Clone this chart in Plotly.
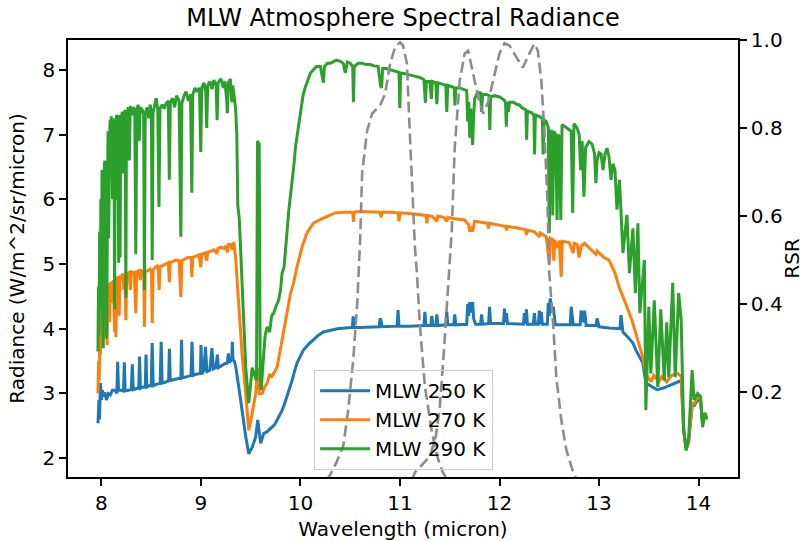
import plotly.graph_objects as go

# wavelength (micron), radiance (W/m^2/sr/micron)
mlw_250 = [
    (7.965, 2.54), (7.975, 2.9), (7.98, 2.6), (7.99, 3.16), (8.0, 2.9), (8.01, 3.05), (8.025, 2.95),
    (8.035, 3.02), (8.05, 2.9), (8.07, 3.0), (8.09, 2.98), (8.11, 3.05), (8.14, 3.05), (8.155, 3.0),
    (8.163, 3.49), (8.172, 3.05), (8.2, 3.05), (8.222, 3.04), (8.23, 3.48), (8.238, 3.04), (8.27, 3.05),
    (8.3, 3.06), (8.31, 3.45), (8.32, 3.06), (8.36, 3.08), (8.375, 3.08), (8.383, 3.57), (8.392, 3.08),
    (8.42, 3.1), (8.44, 3.1), (8.448, 3.6), (8.456, 3.1), (8.48, 3.12), (8.5, 3.12), (8.51, 3.78),
    (8.52, 3.12), (8.55, 3.14), (8.59, 3.16), (8.6, 3.8), (8.61, 3.16), (8.65, 3.18), (8.675, 3.2),
    (8.683, 3.69), (8.692, 3.2), (8.74, 3.22), (8.78, 3.23), (8.798, 3.24), (8.805, 3.83), (8.813, 3.24),
    (8.86, 3.26), (8.9, 3.28), (8.91, 3.8), (8.92, 3.28), (8.96, 3.3), (8.995, 3.31), (9.0, 3.75),
    (9.01, 3.3), (9.03, 3.36), (9.045, 3.72), (9.06, 3.34), (9.09, 3.36), (9.11, 3.7), (9.125, 3.38),
    (9.15, 3.4), (9.165, 3.6), (9.175, 3.4), (9.21, 3.44), (9.24, 3.46), (9.265, 3.47), (9.275, 3.62),
    (9.285, 3.48), (9.31, 3.52), (9.315, 3.8), (9.322, 3.52), (9.335, 3.5),
    (9.35, 3.41), (9.38, 3.1), (9.415, 2.7), (9.45, 2.33), (9.48, 2.07), (9.515, 2.17), (9.55, 2.33),
    (9.57, 2.59), (9.6, 2.23), (9.63, 2.38), (9.665, 2.41), (9.69, 2.45), (9.715, 2.48), (9.74, 2.52),
    (9.765, 2.59), (9.79, 2.66), (9.815, 2.74), (9.84, 2.84), (9.865, 2.95), (9.89, 3.07), (9.915, 3.2),
    (9.94, 3.34), (9.965, 3.47), (10.0, 3.58), (10.03, 3.67), (10.08, 3.76), (10.13, 3.83), (10.18, 3.9),
    (10.23, 3.95), (10.3, 3.98), (10.37, 4.0), (10.45, 4.01), (10.52, 4.02), (10.53, 4.19), (10.54, 4.02),
    (10.6, 4.02), (10.7, 4.03), (10.79, 4.03), (10.8, 4.16), (10.81, 4.12), (10.82, 4.03), (10.9, 4.03),
    (10.97, 4.04), (10.98, 4.29), (10.99, 4.04), (11.1, 4.04), (11.2, 4.05), (11.24, 4.05), (11.25, 4.26),
    (11.26, 4.05), (11.31, 4.05), (11.32, 4.2), (11.33, 4.05), (11.36, 4.05), (11.37, 4.22), (11.38, 4.05),
    (11.46, 4.06), (11.47, 4.26), (11.48, 4.06), (11.54, 4.06), (11.55, 4.22), (11.56, 4.06), (11.67, 4.07),
    (11.68, 4.38), (11.69, 4.2), (11.7, 4.41), (11.71, 4.25), (11.73, 4.41), (11.74, 4.15), (11.76, 4.07),
    (11.81, 4.07), (11.82, 4.22), (11.83, 4.07), (11.89, 4.08), (11.9, 4.34), (11.91, 4.08), (12.04, 4.08),
    (12.05, 4.31), (12.06, 4.1), (12.07, 4.24), (12.08, 4.08), (12.2, 4.07), (12.24, 4.07), (12.25, 4.24),
    (12.26, 4.07), (12.27, 4.3), (12.28, 4.07), (12.34, 4.07), (12.35, 4.24), (12.36, 4.07), (12.39, 4.07),
    (12.4, 4.28), (12.41, 4.07), (12.42, 4.26), (12.43, 4.07), (12.48, 4.07), (12.49, 4.4), (12.5, 4.2),
    (12.51, 4.47), (12.525, 4.25), (12.54, 4.34), (12.56, 4.06), (12.62, 4.06), (12.71, 4.06), (12.72, 4.34),
    (12.74, 4.06), (12.81, 4.06), (12.82, 4.28), (12.84, 4.1), (12.855, 4.28), (12.87, 4.05), (12.95, 4.05),
    (12.97, 4.05), (12.98, 4.16), (13.0, 4.03), (13.1, 4.01), (13.18, 4.0), (13.21, 4.0), (13.22, 4.21),
    (13.24, 3.95), (13.29, 3.87), (13.34, 3.78), (13.37, 3.67), (13.41, 3.56), (13.44, 3.47), (13.47, 3.16),
    (13.52, 3.12), (13.58, 3.06), (13.64, 3.08), (13.7, 3.12), (13.77, 3.16), (13.825, 3.2), (13.85, 2.45),
    (13.875, 2.14), (13.9, 2.25), (13.935, 2.8), (13.96, 2.82), (13.99, 2.9), (14.02, 2.88), (14.04, 2.55),
    (14.065, 2.68), (14.08, 2.6),
]

mlw_270 = [
    (7.965, 3.0), (7.972, 3.5), (7.978, 3.2), (7.985, 4.0), (7.99, 3.6), (7.997, 4.3), (8.005, 3.9),
    (8.012, 4.45), (8.018, 3.8), (8.026, 4.5), (8.035, 4.6), (8.042, 4.0), (8.05, 4.62), (8.057, 3.75),
    (8.064, 4.65), (8.075, 4.7), (8.082, 4.1), (8.09, 4.7), (8.1, 4.72), (8.112, 4.4), (8.12, 4.75),
    (8.132, 3.95), (8.14, 4.78), (8.145, 3.87), (8.152, 4.78), (8.17, 4.8), (8.178, 4.2), (8.186, 4.82),
    (8.2, 4.8), (8.215, 4.85), (8.225, 4.6), (8.235, 4.83), (8.245, 4.13), (8.255, 4.85), (8.28, 4.87),
    (8.29, 4.6), (8.3, 4.88), (8.33, 4.87), (8.345, 4.24), (8.355, 4.88), (8.38, 4.9), (8.39, 4.75),
    (8.4, 4.9), (8.425, 4.88), (8.432, 4.03), (8.44, 4.88), (8.47, 4.9), (8.49, 4.92), (8.503, 4.88),
    (8.51, 4.09), (8.518, 4.9), (8.54, 4.95), (8.56, 4.97), (8.572, 4.9), (8.58, 4.6), (8.588, 4.96),
    (8.62, 4.98), (8.65, 5.0), (8.672, 5.02), (8.682, 4.72), (8.692, 5.02), (8.72, 5.04), (8.75, 5.06),
    (8.78, 5.05), (8.798, 4.49), (8.808, 5.05), (8.84, 5.08), (8.87, 5.1), (8.9, 5.1), (8.908, 4.8),
    (8.918, 5.1), (8.95, 5.12), (8.98, 5.14), (8.998, 4.95), (9.008, 5.15), (9.04, 5.17), (9.058, 5.05),
    (9.068, 5.18), (9.1, 5.2), (9.13, 5.22), (9.16, 5.16), (9.17, 5.24), (9.2, 5.26), (9.23, 5.24),
    (9.25, 5.28), (9.265, 5.18), (9.275, 5.3), (9.3, 5.3), (9.315, 5.22), (9.33, 5.34),
    (9.35, 5.06), (9.38, 4.29), (9.415, 3.56), (9.45, 3.0), (9.48, 2.43), (9.515, 2.7), (9.55, 3.0),
    (9.57, 3.4), (9.585, 3.0), (9.615, 3.0), (9.64, 3.1), (9.665, 3.16), (9.69, 3.3), (9.71, 3.25),
    (9.74, 3.35), (9.765, 3.41), (9.8, 3.7), (9.83, 3.93), (9.865, 4.25), (9.9, 4.55), (9.93, 4.7),
    (9.965, 4.96), (10.015, 5.26), (10.065, 5.48), (10.13, 5.63), (10.23, 5.71), (10.3, 5.75), (10.35, 5.79),
    (10.45, 5.8), (10.525, 5.8), (10.532, 5.65), (10.54, 5.8), (10.6, 5.81), (10.7, 5.81), (10.8, 5.8),
    (10.81, 5.72), (10.82, 5.8), (10.9, 5.8), (10.98, 5.79), (10.99, 5.66), (11.0, 5.79), (11.1, 5.78),
    (11.2, 5.76), (11.26, 5.75), (11.27, 5.63), (11.28, 5.75), (11.32, 5.74), (11.37, 5.66), (11.38, 5.74),
    (11.44, 5.72), (11.47, 5.66), (11.48, 5.72), (11.55, 5.7), (11.65, 5.68), (11.69, 5.6), (11.7, 5.5),
    (11.72, 5.58), (11.73, 5.5), (11.75, 5.66), (11.8, 5.65), (11.88, 5.63), (11.89, 5.55), (11.9, 5.63),
    (12.0, 5.6), (12.06, 5.58), (12.07, 5.52), (12.08, 5.58), (12.17, 5.56), (12.26, 5.53), (12.27, 5.45),
    (12.28, 5.52), (12.35, 5.5), (12.4, 5.42), (12.41, 5.48), (12.47, 5.42), (12.5, 5.01), (12.51, 5.4),
    (12.535, 5.38), (12.545, 5.05), (12.555, 5.37), (12.58, 5.25), (12.6, 5.36), (12.62, 4.8), (12.63, 5.35),
    (12.7, 5.33), (12.74, 5.17), (12.75, 5.32), (12.78, 5.3), (12.8, 5.1), (12.82, 5.28), (12.855, 5.32),
    (12.9, 5.25), (12.97, 5.15), (12.98, 5.2), (13.02, 5.15), (13.05, 5.1), (13.1, 5.06), (13.16, 4.86),
    (13.2, 4.65), (13.24, 4.5), (13.28, 4.34), (13.33, 4.13), (13.37, 3.93), (13.41, 3.72), (13.44, 3.56),
    (13.47, 3.31), (13.49, 3.26), (13.52, 3.18), (13.55, 3.28), (13.6, 3.18), (13.63, 3.26), (13.68, 3.18),
    (13.73, 3.28), (13.79, 3.31), (13.825, 3.26), (13.85, 2.45), (13.875, 2.14), (13.9, 2.25), (13.935, 2.85),
    (13.96, 2.85), (13.99, 2.95), (14.02, 2.9), (14.04, 2.55), (14.065, 2.7), (14.08, 2.62),
]

mlw_290 = [
    (7.965, 3.65), (7.97, 4.65), (7.975, 3.9), (7.982, 5.5), (7.988, 4.3), (7.994, 6.0), (8.0, 4.9),
    (8.006, 6.45), (8.012, 4.2), (8.018, 3.7), (8.025, 6.2), (8.032, 6.6), (8.038, 4.8), (8.045, 6.6),
    (8.052, 3.85), (8.058, 6.8), (8.066, 7.05), (8.072, 5.4), (8.078, 7.0), (8.086, 7.22), (8.092, 6.4),
    (8.098, 7.28), (8.106, 7.15), (8.112, 6.0), (8.118, 7.25), (8.126, 7.1), (8.132, 4.3), (8.138, 7.15),
    (8.145, 5.99), (8.151, 7.3), (8.166, 7.25), (8.173, 5.02), (8.18, 7.3), (8.187, 5.1), (8.194, 7.22),
    (8.21, 7.35), (8.218, 6.4), (8.226, 7.3), (8.238, 7.38), (8.245, 4.47), (8.252, 7.3), (8.27, 7.42),
    (8.28, 6.6), (8.29, 7.44), (8.31, 7.3), (8.32, 7.42), (8.335, 7.38), (8.345, 5.15), (8.355, 7.38),
    (8.37, 7.46), (8.38, 6.9), (8.39, 7.42), (8.41, 7.38), (8.424, 7.32), (8.432, 4.6), (8.44, 7.32),
    (8.46, 7.42), (8.475, 7.25), (8.49, 7.46), (8.502, 7.32), (8.51, 5.06), (8.518, 7.32), (8.535, 7.46),
    (8.55, 7.56), (8.566, 7.38), (8.578, 5.88), (8.588, 7.4), (8.61, 7.46), (8.63, 7.4), (8.65, 7.48),
    (8.672, 7.52), (8.682, 6.3), (8.692, 7.5), (8.715, 7.56), (8.735, 7.42), (8.755, 7.6), (8.78, 7.52),
    (8.798, 5.42), (8.808, 7.48), (8.83, 7.6), (8.85, 7.66), (8.875, 7.52), (8.895, 7.62), (8.908, 6.1),
    (8.918, 7.62), (8.94, 7.72), (8.96, 7.66), (8.985, 7.72), (8.998, 6.73), (9.008, 7.72), (9.03, 7.8),
    (9.048, 7.66), (9.058, 7.1), (9.068, 7.76), (9.09, 7.82), (9.11, 7.7), (9.13, 7.84), (9.152, 7.76),
    (9.162, 7.22), (9.172, 7.8), (9.2, 7.86), (9.225, 7.72), (9.24, 7.82), (9.258, 7.55), (9.265, 7.33),
    (9.275, 7.8), (9.295, 7.86), (9.31, 7.5), (9.32, 7.76), (9.335, 7.55), (9.348, 7.4),
    (9.36, 7.0), (9.37, 5.9), (9.385, 5.7), (9.415, 4.55), (9.45, 3.4), (9.48, 2.85), (9.5, 3.2),
    (9.515, 3.4), (9.535, 3.3), (9.558, 3.2), (9.568, 6.9), (9.585, 6.85), (9.595, 3.3), (9.605, 3.05),
    (9.63, 3.6), (9.645, 3.9), (9.665, 4.03), (9.69, 3.95), (9.71, 4.2), (9.73, 4.24), (9.755, 4.35),
    (9.78, 4.44), (9.8, 4.6), (9.815, 4.86), (9.835, 4.95), (9.85, 5.17), (9.865, 5.5), (9.88, 5.79),
    (9.9, 6.05), (9.915, 6.3), (9.935, 6.55), (9.95, 6.81), (9.975, 7.1), (10.0, 7.38), (10.025, 7.6),
    (10.05, 7.74), (10.075, 7.86), (10.1, 7.95), (10.13, 8.0), (10.16, 8.05), (10.2, 8.05), (10.22, 7.9),
    (10.23, 7.8), (10.24, 8.05), (10.27, 8.1), (10.3, 8.1), (10.33, 8.13), (10.36, 8.15), (10.4, 8.13),
    (10.43, 8.1), (10.45, 7.95), (10.47, 8.12), (10.5, 8.1), (10.525, 8.05), (10.532, 7.5), (10.54, 8.05),
    (10.58, 8.1), (10.62, 8.1), (10.66, 8.08), (10.7, 8.08), (10.74, 8.06), (10.78, 8.05), (10.805, 7.75),
    (10.815, 7.72), (10.825, 8.02), (10.86, 8.02), (10.9, 8.0), (10.94, 7.98), (10.99, 7.96), (10.998, 7.41),
    (11.006, 7.95), (11.05, 7.94), (11.1, 7.92), (11.15, 7.9), (11.2, 7.88), (11.24, 7.85), (11.255, 7.49),
    (11.265, 7.82), (11.3, 7.82), (11.315, 7.55), (11.325, 7.82), (11.36, 7.8), (11.37, 7.47), (11.38, 7.8),
    (11.42, 7.78), (11.46, 7.76), (11.47, 7.35), (11.48, 7.76), (11.52, 7.74), (11.545, 7.72), (11.552, 7.45),
    (11.56, 7.72), (11.6, 7.72), (11.64, 7.7), (11.67, 7.68), (11.68, 7.2), (11.69, 7.5), (11.7, 6.95),
    (11.71, 7.4), (11.72, 7.1), (11.73, 6.84), (11.74, 7.3), (11.75, 7.55), (11.78, 7.65), (11.81, 7.64),
    (11.82, 7.35), (11.83, 7.62), (11.87, 7.62), (11.895, 7.6), (11.902, 7.07), (11.91, 7.58), (11.95, 7.6),
    (12.0, 7.58), (12.04, 7.54), (12.06, 7.5), (12.068, 7.12), (12.076, 7.5), (12.09, 7.35), (12.1, 7.5),
    (12.14, 7.5), (12.18, 7.46), (12.2, 7.46), (12.22, 7.42), (12.265, 7.38), (12.272, 6.92), (12.28, 7.36),
    (12.32, 7.34), (12.345, 7.3), (12.352, 6.69), (12.36, 7.3), (12.4, 7.28), (12.43, 7.25), (12.438, 6.69),
    (12.446, 7.23), (12.47, 7.2), (12.49, 7.1), (12.5, 5.48), (12.51, 7.05), (12.525, 7.05), (12.535, 5.75),
    (12.545, 7.05), (12.565, 7.0), (12.578, 5.68), (12.59, 7.0), (12.605, 6.95), (12.615, 5.68), (12.628, 7.15),
    (12.66, 7.12), (12.69, 7.08), (12.72, 7.05), (12.735, 5.79), (12.748, 7.17), (12.78, 7.1), (12.8, 7.0),
    (12.815, 6.45), (12.83, 6.9), (12.848, 6.04), (12.865, 6.8), (12.9, 6.89), (12.93, 6.85), (12.955, 6.7),
    (12.968, 6.25), (12.98, 6.6), (13.0, 6.72), (13.02, 6.7), (13.04, 6.45), (13.06, 6.7), (13.08, 6.79),
    (13.1, 6.65), (13.12, 6.3), (13.14, 6.55), (13.16, 6.45), (13.18, 5.84), (13.205, 6.3), (13.24, 5.17),
    (13.28, 5.76), (13.305, 4.86), (13.34, 5.55), (13.365, 4.55), (13.39, 5.63), (13.41, 4.24), (13.455, 5.06),
    (13.47, 2.74), (13.5, 4.34), (13.52, 3.31), (13.555, 4.44), (13.59, 3.1), (13.62, 4.3), (13.655, 3.2),
    (13.68, 4.1), (13.7, 3.25), (13.74, 4.71), (13.765, 3.25), (13.8, 4.55), (13.825, 4.13), (13.85, 2.43),
    (13.875, 2.12), (13.9, 2.3), (13.935, 3.36), (13.955, 2.9), (13.99, 3.0), (14.02, 2.95), (14.04, 2.48),
    (14.065, 2.7), (14.08, 2.6),
]

# relative spectral response of the two bands (right axis)
rsr_a_wl = [10.26, 10.30, 10.36, 10.43, 10.48, 10.53, 10.57, 10.60, 10.62, 10.67, 10.72, 10.80, 10.85,
            10.90, 10.95, 11.0, 11.03, 11.07, 11.09, 11.12, 11.15, 11.17, 11.20, 11.25, 11.32, 11.38,
            11.43, 11.48]
rsr_a = [0.0, 0.013, 0.04, 0.078, 0.16, 0.274, 0.40, 0.55, 0.70, 0.795, 0.833, 0.852, 0.878, 0.946,
         0.984, 0.995, 0.988, 0.946, 0.833, 0.68, 0.53, 0.47, 0.35, 0.214, 0.109, 0.05, 0.018, 0.0]

rsr_b_wl = [11.12, 11.15, 11.22, 11.30, 11.36, 11.40, 11.44, 11.47, 11.50, 11.52, 11.55, 11.60, 11.65,
            11.685, 11.735, 11.785, 11.835, 11.885, 11.935, 12.0, 12.05, 12.10, 12.17, 12.235, 12.30,
            12.35, 12.385, 12.42, 12.45, 12.48, 12.50, 12.54, 12.57, 12.62, 12.67, 12.74, 12.78]
rsr_b = [0.0, 0.018, 0.035, 0.054, 0.10, 0.168, 0.29, 0.387, 0.50, 0.568, 0.757, 0.908, 0.97, 0.976,
         0.924, 0.87, 0.833, 0.859, 0.908, 0.97, 0.993, 0.988, 0.961, 0.938, 0.97, 0.992, 0.976, 0.908,
         0.795, 0.644, 0.47, 0.35, 0.236, 0.138, 0.07, 0.018, 0.0]

series = [("MLW 250 K", mlw_250, "#1f77b4"),
          ("MLW 270 K", mlw_270, "#ff7f0e"),
          ("MLW 290 K", mlw_290, "#2ca02c")]

FONT = "DejaVu Sans"

fig = go.Figure()
for name, pts, col in series:
    wl, rad = zip(*pts)
    fig.add_trace(go.Scatter(x=wl, y=rad, name=name, mode="lines",
                             line=dict(color=col, width=3)))

for wl, r in [(rsr_a_wl, rsr_a), (rsr_b_wl, rsr_b)]:
    fig.add_trace(go.Scatter(x=wl, y=r, yaxis="y2", mode="lines", showlegend=False,
                             line=dict(color="#8c8c8c", width=2.6, dash="11px,5px")))

axis_style = dict(showgrid=False, zeroline=False, showline=True, linecolor="black", linewidth=1.6,
                  ticks="outside", ticklen=7, tickwidth=1.6, tickcolor="black", automargin=False,
                  tickfont=dict(family=FONT, size=20, color="black"))
label_font = dict(family=FONT, size=20, color="black")

fig.update_layout(
    width=810, height=541,
    margin=dict(l=68, r=72, t=40, b=64),
    paper_bgcolor="white", plot_bgcolor="white",
    font=dict(family=FONT, size=20, color="black"),
    title=dict(text="MLW Atmosphere Spectral Radiance", x=0.5, xref="paper", xanchor="center",
               y=1 - 18 / 541, yref="container", yanchor="middle",
               font=dict(family=FONT, size=24, color="black")),
    xaxis=dict(range=[7.664, 14.396], tickvals=[8, 9, 10, 11, 12, 13, 14], mirror=True,
               title=dict(text="Wavelength (micron)", standoff=8, font=label_font), **axis_style),
    yaxis=dict(range=[1.71, 8.46], tickvals=[2, 3, 4, 5, 6, 7, 8],
               title=dict(text="Radiance (W/m^2/sr/micron)", standoff=12, font=label_font),
               **axis_style),
    yaxis2=dict(range=[0.0075, 1.0005], overlaying="y", side="right",
                tickvals=[0.2, 0.4, 0.6, 0.8, 1.0], ticktext=["0.2", "0.4", "0.6", "0.8", "1.0"],
                title=dict(text="RSR", standoff=3, font=label_font), **axis_style),
    legend=dict(x=0.367, y=0.245, xanchor="left", yanchor="top", itemwidth=50,
                bgcolor="rgba(255,255,255,0)", bordercolor="#cccccc", borderwidth=1.2,
                font=dict(family=FONT, size=20, color="black")),
    showlegend=True,
)

# drop the page's default body margin so the figure sits at the window origin
fig.write_html("out.html", config={"displayModeBar": False},
               post_script="document.body.style.margin='0';"
                           "document.body.style.overflow='hidden';")
